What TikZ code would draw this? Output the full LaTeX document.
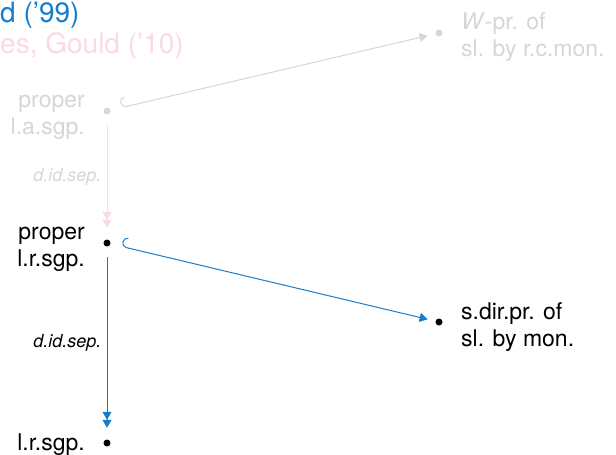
\documentclass[tikz,border=0pt]{standalone}
\usepackage{fontspec}
\setmainfont{TeX Gyre Heros}
\usetikzlibrary{arrows.meta}
\definecolor{cblue}{RGB}{22,124,204}
\definecolor{cpink}{RGB}{250,218,228}
\definecolor{cgray}{RGB}{214,214,214}
\begin{document}
\begin{tikzpicture}[x=1pt,y=-1pt,
  dot/.style={circle,fill,inner sep=0pt,minimum size=7pt},
  lab/.style={font=\fontsize{23}{27}\selectfont, inner sep=0pt},
  elab/.style={font=\fontsize{18}{21}\selectfont\itshape, inner sep=0pt},
  ttl/.style={font=\fontsize{28}{32}\selectfont, inner sep=0pt, anchor=base west},
  dbl/.style={line width=1pt, -{Triangle[length=8pt,width=9pt]Triangle[length=8pt,width=9pt]}},
  hk/.style={line width=1pt, {Hooks[right,length=5pt,width=20pt]}-{Triangle[length=8pt,width=9pt]}}]
\useasboundingbox (0,0) rectangle (616,455);
\node[ttl,text=cblue] (t1) at (0,22) {d (’99)};
\node[ttl,text=cpink] (t2) at (0,53) {es, Gould (’10)};
\node[dot,cgray] (A) at (107,111) {};
\node[dot,cgray] (B) at (439,33) {};
\node[dot] (C) at (107,243) {};
\node[dot] (D) at (439,322) {};
\node[dot] (E) at (107,443) {};
\node[lab,text=cgray,align=right,anchor=east] (Al) at (85,117) {proper\\l.a.sgp.};
\node[lab,text=cgray,align=left,anchor=west] (Bl) at (461,37) {\textit{W}-pr. of\\sl. by r.c.mon.};
\node[lab,align=right,anchor=east] (Cl) at (85,249) {proper\\l.r.sgp.};
\node[lab,align=left,anchor=west] (Dl) at (461,327) {s.dir.pr. of\\sl. by mon.};
\node[lab,anchor=east] (El) at (85,445) {l.r.sgp.};
\draw[hk,cgray,shorten <=11pt,shorten >=8pt] (A) -- (B);
\draw[dbl,cpink,shorten <=10.5pt,shorten >=11.5pt] (A) -- node[elab,text=cgray,left=5pt] {d.id.sep.} (C);
\draw[hk,cblue,shorten <=11pt,shorten >=8pt] (C) -- (D);
\draw[dbl,cblue,shorten <=10.5pt,shorten >=11.5pt] (C) -- node[elab,text=black,left=5pt] {d.id.sep.} (E);
\end{tikzpicture}
\end{document}
